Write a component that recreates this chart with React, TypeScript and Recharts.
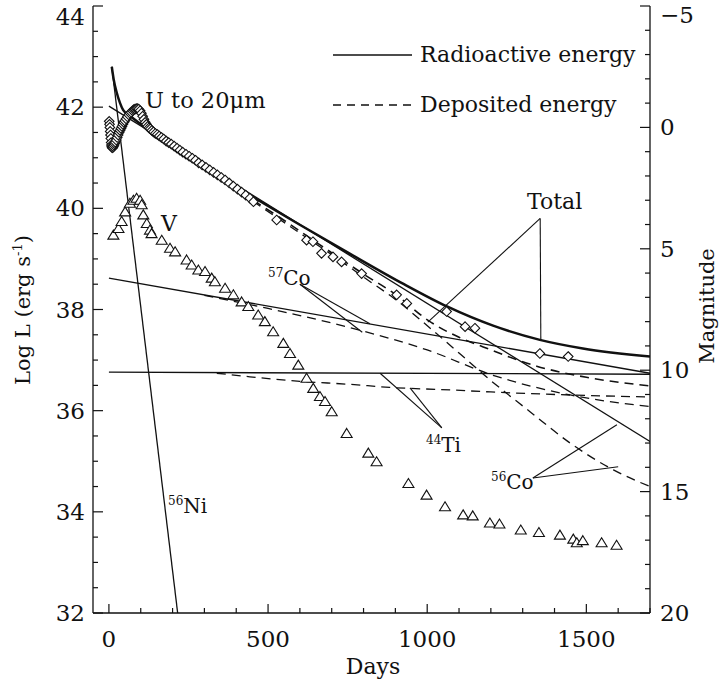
import React from "react";
import { ComposedChart, Line, Scatter, XAxis, YAxis, ReferenceLine } from "recharts";

const FONT = "'DejaVu Serif', 'Liberation Serif', serif";
const INK = "#111";

// ---- axis ticks ----
const dayTicks = [0, 100, 200, 300, 400, 500, 600, 700, 800, 900, 1000, 1100, 1200, 1300, 1400, 1500, 1600, 1700];
const dayLabels = [0, 500, 1000, 1500];
const logLTicks = [32, 32.5, 33, 33.5, 34, 34.5, 35, 35.5, 36, 36.5, 37, 37.5, 38, 38.5, 39, 39.5, 40, 40.5, 41, 41.5, 42, 42.5, 43, 43.5, 44];
const logLLabels = [32, 34, 36, 38, 40, 42, 44];
const magTicks = [-5, -4, -3, -2, -1, 0, 1, 2, 3, 4, 5, 6, 7, 8, 9, 10, 11, 12, 13, 14, 15, 16, 17, 18, 19, 20];
const magLabels = [-5, 0, 5, 10, 15, 20];

// ---- model curves: [day, log L] ----
const ni56Radioactive: [number, number][] = [[9, 42.8], [216, 32.0]];
const co56Radioactive: [number, number][] = [[0, 42.02], [1700, 35.39]];
const co57Radioactive: [number, number][] = [[0, 38.62], [1700, 36.74]];
const ti44Radioactive: [number, number][] = [[0, 36.76], [1700, 36.72]];
const totalRadioactive: [number, number][] = [
  [9, 42.8], [15, 42.55], [24, 42.3], [35, 42.08], [45, 41.94], [66, 41.83], [92, 41.7], [139, 41.48],
  [286, 40.87], [443, 40.26], [601, 39.67], [758, 39.1], [927, 38.5], [1062, 38.06], [1207, 37.68],
  [1354, 37.4], [1489, 37.23], [1700, 37.07],
];
const totalDeposited: [number, number][] = [
  [140, 41.48], [286, 40.86], [443, 40.2], [527, 39.86], [621, 39.46], [731, 38.99], [800, 38.7],
  [900, 38.3], [1004, 37.78], [1100, 37.45], [1176, 37.26], [1344, 36.88], [1500, 36.66], [1700, 36.49],
];
const co56Deposited: [number, number][] = [
  [140, 41.47], [443, 40.18], [621, 39.42], [731, 38.95], [800, 38.64], [900, 38.2], [1004, 37.66],
  [1100, 37.14], [1197, 36.61], [1323, 35.98], [1449, 35.36], [1585, 34.83], [1700, 34.5],
];
const co57Deposited: [number, number][] = [
  [300, 38.28], [500, 38.02], [758, 37.64], [1000, 37.2], [1207, 36.7], [1449, 36.31], [1700, 36.08],
];
const ti44Deposited: [number, number][] = [
  [339, 36.74], [443, 36.67], [600, 36.58], [758, 36.52], [882, 36.46], [1072, 36.41], [1200, 36.37],
  [1449, 36.31], [1700, 36.27],
];

// ---- observations ----
const bolometricObs: [number, number][] = [
  [1, 41.72], [2, 41.66], [3, 41.6], [4, 41.52], [5, 41.45], [6, 41.38], [7, 41.3], [8, 41.25], [9, 41.22],
  [10, 41.2], [12, 41.2], [14, 41.22], [16, 41.25], [18, 41.28], [20, 41.31], [23, 41.35], [26, 41.4],
  [29, 41.45], [32, 41.5], [35, 41.54], [38, 41.58], [41, 41.62], [44, 41.66], [47, 41.7], [50, 41.73],
  [54, 41.77], [58, 41.81], [62, 41.85], [66, 41.88], [70, 41.9], [74, 41.93], [78, 41.95], [82, 41.96],
  [86, 41.97], [90, 41.97], [94, 41.96], [98, 41.93], [102, 41.88], [106, 41.82], [110, 41.76], [114, 41.7],
  [118, 41.66], [122, 41.62], [126, 41.59], [130, 41.57], [135, 41.54], [140, 41.51], [146, 41.48],
  [152, 41.46], [158, 41.43], [165, 41.4], [172, 41.37], [180, 41.33], [188, 41.3], [196, 41.27],
  [205, 41.23], [214, 41.19], [223, 41.15], [232, 41.11], [242, 41.07], [252, 41.03], [262, 40.99],
  [272, 40.95], [282, 40.9], [293, 40.86], [305, 40.81], [317, 40.76], [329, 40.71], [341, 40.66],
  [353, 40.61], [365, 40.56], [378, 40.5], [391, 40.44], [404, 40.38], [417, 40.32], [430, 40.26],
  [443, 40.2], [454, 40.13], [527, 39.77], [621, 39.37], [641, 39.34], [668, 39.11], [704, 39.04],
  [731, 38.94], [794, 38.71], [904, 38.29], [936, 38.12], [1061, 37.96], [1119, 37.66], [1150, 37.63],
  [1354, 37.13], [1443, 37.07],
];
const vBandObs: [number, number][] = [
  [14, 39.47], [30, 39.6], [40, 39.74], [51, 39.93], [66, 40.1], [77, 40.16], [87, 40.2], [98, 40.16],
  [103, 40.07], [108, 39.87], [119, 39.7], [129, 39.57], [134, 39.5], [166, 39.37], [192, 39.21],
  [208, 39.14], [244, 38.98], [260, 38.88], [281, 38.78], [302, 38.75], [323, 38.62], [333, 38.55],
  [365, 38.42], [391, 38.29], [417, 38.15], [438, 38.06], [469, 37.89], [490, 37.76], [516, 37.56],
  [548, 37.33], [569, 37.13], [595, 36.9], [621, 36.64], [642, 36.44], [663, 36.28], [679, 36.18],
  [700, 35.98], [747, 35.55], [815, 35.16], [841, 34.99], [941, 34.56], [998, 34.33], [1056, 34.1],
  [1113, 33.94], [1143, 33.92], [1197, 33.78], [1227, 33.76], [1294, 33.64], [1351, 33.59], [1417, 33.54],
  [1459, 33.46], [1470, 33.39], [1489, 33.43], [1548, 33.39], [1595, 33.34],
];

// ---- annotation leader lines (data coords) ----
const leaderLines: [number, number, number, number][] = [
  [1355, 39.8, 1002, 37.75],
  [1355, 39.8, 1357, 37.4],
  [600, 38.5, 820, 37.72],
  [600, 38.5, 796, 37.55],
  [1046, 35.66, 852, 36.74],
  [1046, 35.66, 946, 36.45],
  [1332, 34.67, 1596, 35.72],
  [1332, 34.67, 1600, 34.89],
];

const toRows = (arr: [number, number][]) => arr.map(([day, L]) => ({ day, L }));

const W = 724;
const H = 687;
const TICK_FS = 23;

const BottomTick = (p: any) => {
  const v = p.payload.value;
  const major = dayLabels.includes(v);
  return (
    <g>
      <line x1={p.x} x2={p.x} y1={p.y} y2={p.y - (major ? 9 : 5)} stroke={INK} strokeWidth={1.2} />
      {major && (
        <text x={p.x} y={p.y + 34} textAnchor="middle" fontSize={TICK_FS} fontFamily={FONT} fill={INK}>
          {v}
        </text>
      )}
    </g>
  );
};
const TopTick = (p: any) => {
  const v = p.payload.value;
  const major = dayLabels.includes(v);
  return <line x1={p.x} x2={p.x} y1={p.y} y2={p.y + (major ? 9 : 5)} stroke={INK} strokeWidth={1.2} />;
};
const LeftTick = (p: any) => {
  const v = p.payload.value;
  const major = logLLabels.includes(v);
  const ty = v === 44 ? p.y + 19 : p.y + 8;
  return (
    <g>
      <line x1={p.x} x2={p.x + (major ? 10 : 5)} y1={p.y} y2={p.y} stroke={INK} strokeWidth={1.2} />
      {major && (
        <text x={p.x - 8} y={ty} textAnchor="end" fontSize={TICK_FS} fontFamily={FONT} fill={INK}>
          {v}
        </text>
      )}
    </g>
  );
};
const RightTick = (p: any) => {
  const v = p.payload.value;
  const major = magLabels.includes(v);
  const ty = v === -5 ? p.y + 17 : p.y + 8;
  return (
    <g>
      <line x1={p.x} x2={p.x - (major ? 10 : 5)} y1={p.y} y2={p.y} stroke={INK} strokeWidth={1.2} />
      {major && (
        <text x={p.x + 10} y={ty} textAnchor="start" fontSize={TICK_FS} fontFamily={FONT} fill={INK}>
          {v < 0 ? "\u2212" + Math.abs(v) : v}
        </text>
      )}
    </g>
  );
};

const Diamond = (p: any) => {
  const { cx, cy } = p;
  if (cx == null || cy == null) return <g />;
  const r = 4.8;
  return (
    <polygon
      points={`${cx},${cy - r} ${cx + r},${cy} ${cx},${cy + r} ${cx - r},${cy}`}
      fill="#fff"
      stroke={INK}
      strokeWidth={1.1}
    />
  );
};
const Triangle = (p: any) => {
  const { cx, cy } = p;
  if (cx == null || cy == null) return <g />;
  return (
    <polygon
      points={`${cx},${cy - 5} ${cx + 5.5},${cy + 4} ${cx - 5.5},${cy + 4}`}
      fill="#fff"
      stroke={INK}
      strokeWidth={1.1}
    />
  );
};

const Iso = ({ x, y, mass, el }: { x: number; y: number; mass: string; el: string }) => (
  <text x={x} y={y} fontFamily={FONT} fill={INK} fontSize={20}>
    <tspan fontSize={12} dy={-8}>{mass}</tspan>
    <tspan dy={8}>{el}</tspan>
  </text>
);

export default function App() {
  const solid = { stroke: INK, strokeWidth: 1.3, dot: false, isAnimationActive: false, type: "linear" as const };
  const dashed = { ...solid, strokeDasharray: "9 6" };
  return (
    <div style={{ position: "absolute", left: 0, top: 0, width: W, height: H, background: "#fff" }}>
      <ComposedChart width={W} height={H} margin={{ top: 6, right: 0, bottom: 0, left: 0 }}>
        <XAxis
          xAxisId="b"
          type="number"
          dataKey="day"
          domain={[-50, 1700]}
          ticks={dayTicks}
          interval={0}
          height={74}
          tickSize={0}
          tickMargin={0}
          tick={<BottomTick />}
          axisLine={{ stroke: INK, strokeWidth: 1.3 }}
          allowDataOverflow
        />
        <XAxis
          xAxisId="t"
          orientation="top"
          type="number"
          dataKey="day"
          domain={[-50, 1700]}
          ticks={dayTicks}
          interval={0}
          height={0}
          tickSize={0}
          tickMargin={0}
          tick={<TopTick />}
          axisLine={{ stroke: INK, strokeWidth: 1.3 }}
          allowDataOverflow
        />
        <YAxis
          yAxisId="L"
          type="number"
          domain={[32, 44]}
          ticks={logLTicks}
          interval={0}
          width={93}
          tickSize={0}
          tickMargin={0}
          tick={<LeftTick />}
          axisLine={{ stroke: INK, strokeWidth: 1.3 }}
          allowDataOverflow
        />
        <YAxis
          yAxisId="M"
          orientation="right"
          type="number"
          domain={[-5, 20]}
          reversed
          ticks={magTicks}
          interval={0}
          width={74}
          tickSize={0}
          tickMargin={0}
          tick={<RightTick />}
          axisLine={{ stroke: INK, strokeWidth: 1.3 }}
          allowDataOverflow
        />

        <Scatter xAxisId="b" yAxisId="L" data={toRows(bolometricObs)} dataKey="L" shape={Diamond} isAnimationActive={false} />
        <Scatter xAxisId="b" yAxisId="L" data={toRows(vBandObs)} dataKey="L" shape={Triangle} isAnimationActive={false} />

        <Line xAxisId="b" yAxisId="L" data={toRows(ni56Radioactive)} dataKey="L" {...solid} />
        <Line xAxisId="b" yAxisId="L" data={toRows(co56Radioactive)} dataKey="L" {...solid} />
        <Line xAxisId="b" yAxisId="L" data={toRows(co57Radioactive)} dataKey="L" {...solid} />
        <Line xAxisId="b" yAxisId="L" data={toRows(ti44Radioactive)} dataKey="L" {...solid} />
        <Line xAxisId="b" yAxisId="L" data={toRows(totalRadioactive)} dataKey="L" {...solid} type="monotone" strokeWidth={2.5} />
        <Line xAxisId="b" yAxisId="L" data={toRows(totalDeposited)} dataKey="L" {...dashed} type="monotone" strokeWidth={1.6} />
        <Line xAxisId="b" yAxisId="L" data={toRows(co56Deposited)} dataKey="L" {...dashed} type="monotone" />
        <Line xAxisId="b" yAxisId="L" data={toRows(co57Deposited)} dataKey="L" {...dashed} type="monotone" />
        <Line xAxisId="b" yAxisId="L" data={toRows(ti44Deposited)} dataKey="L" {...dashed} type="monotone" />

        {leaderLines.map(([x1, y1, x2, y2], i) => (
          <ReferenceLine
            key={i}
            xAxisId="b"
            yAxisId="L"
            segment={[{ x: x1, y: y1 }, { x: x2, y: y2 }]}
            stroke={INK}
            strokeWidth={1.1}
            ifOverflow="visible"
          />
        ))}
      </ComposedChart>

      <svg width={W} height={H} style={{ position: "absolute", left: 0, top: 0, pointerEvents: "none" }}>
        {/* legend */}
        <line x1={333} x2={412} y1={55} y2={55} stroke={INK} strokeWidth={1.3} />
        <text x={420} y={62} fontFamily={FONT} fontSize={22} fill={INK}>Radioactive energy</text>
        <line x1={333} x2={415} y1={105} y2={105} stroke={INK} strokeWidth={1.3} strokeDasharray="8 6" />
        <text x={420} y={112} fontFamily={FONT} fontSize={22} fill={INK}>Deposited energy</text>

        {/* labels */}
        <text x={145} y={108} fontFamily={FONT} fontSize={22.5} fill={INK}>U to 20{"\u03bc"}m</text>
        <text x={161} y={231} fontFamily={FONT} fontSize={22} fill={INK}>V</text>
        <text x={527} y={209} fontFamily={FONT} fontSize={22} fill={INK}>Total</text>
        <Iso x={268} y={285} mass="57" el="Co" />
        <Iso x={426} y={452} mass="44" el="Ti" />
        <Iso x={491} y={489} mass="56" el="Co" />
        <Iso x={168} y={513} mass="56" el="Ni" />

        {/* axis titles */}
        <text x={373} y={674} textAnchor="middle" fontFamily={FONT} fontSize={22} fill={INK}>Days</text>
        <text
          x={0}
          y={0}
          transform="translate(30,310) rotate(-90)"
          textAnchor="middle"
          fontFamily={FONT}
          fontSize={21}
          fill={INK}
        >
          Log L (erg s<tspan fontSize={13} dy={-8}>-1</tspan>
          <tspan dy={8}>)</tspan>
        </text>
        <text
          x={0}
          y={0}
          transform="translate(714,306) rotate(-90)"
          textAnchor="middle"
          fontFamily={FONT}
          fontSize={21}
          fill={INK}
        >
          Magnitude
        </text>
      </svg>
    </div>
  );
}
